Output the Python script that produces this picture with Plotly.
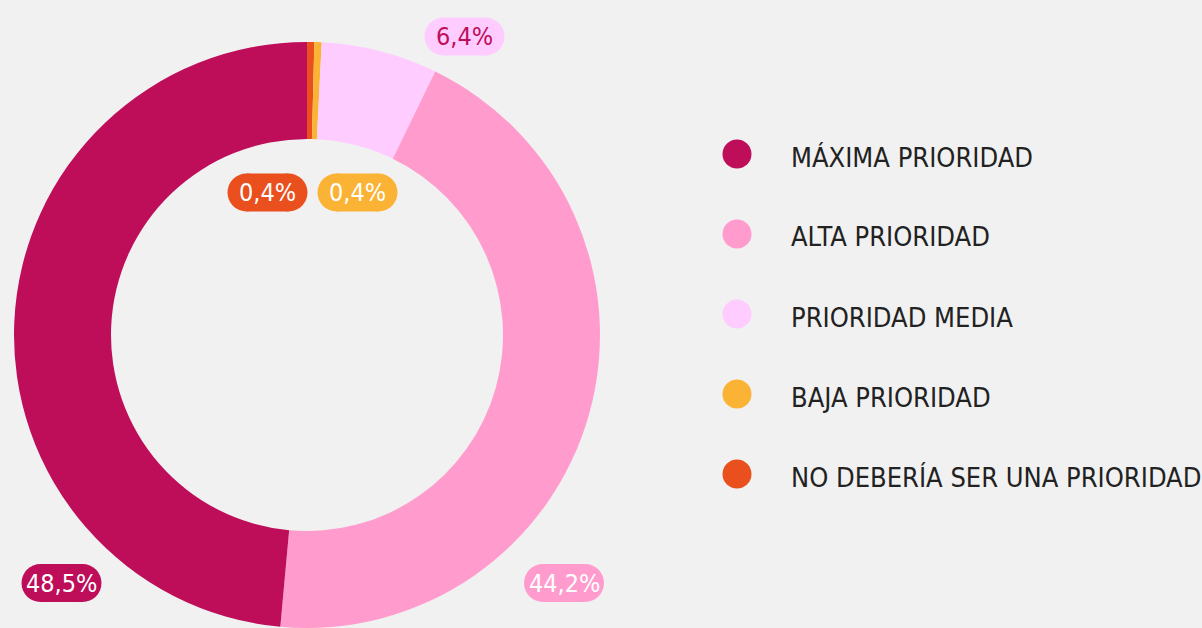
import plotly.graph_objects as go

# ---- data ----
categories = ["MÁXIMA PRIORIDAD", "ALTA PRIORIDAD", "PRIORIDAD MEDIA",
              "BAJA PRIORIDAD", "NO DEBERÍA SER UNA PRIORIDAD"]
values = [48.5, 44.2, 6.4, 0.4, 0.4]
value_labels = ["48,5%", "44,2%", "6,4%", "0,4%", "0,4%"]

# ---- styles ----
colors = ["#BE0E5A", "#FF9CCD", "#FFCCFF", "#FBB335", "#EA501E"]
label_text_colors = ["#FFFFFF", "#FFFFFF", "#BE0E5A", "#FFFFFF", "#FFFFFF"]
label_pos_px = [(61.5, 583), (564, 583), (464.5, 36.5), (357.5, 192.5), (267.5, 192.5)]
W, H = 1202, 628
FONT = "DejaVu Sans Condensed, DejaVu Sans, sans-serif"
BG = "#F1F1F1"
TEXT = "#222222"


def px(x):
    return x / W


def py(y):
    return 1 - y / H


cx, cy, r = 307, 335, 293
inner_r = 196

fig = go.Figure()
# slices drawn clockwise from 12 o'clock in reverse order, so the first
# category runs counter-clockwise from the top
fig.add_trace(go.Pie(
    labels=categories[::-1],
    values=values[::-1],
    sort=False,
    direction="clockwise",
    rotation=0,
    hole=inner_r / r,
    marker=dict(colors=colors[::-1], line=dict(width=0)),
    textinfo="none",
    hoverinfo="label+percent",
    showlegend=False,
    domain=dict(x=[px(cx - r), px(cx + r)], y=[py(cy + r), py(cy - r)]),
))

shapes = []
annotations = []

# value pills
pill_w, pill_h = 80, 38
rad = pill_h / 2
for (lx, ly), txt, bg, fg in zip(label_pos_px, value_labels, colors, label_text_colors):
    xa, ya = px(lx), py(ly)
    common = dict(xref="paper", yref="paper", xsizemode="pixel", ysizemode="pixel",
                  xanchor=xa, yanchor=ya, fillcolor=bg, line=dict(width=0), layer="above")
    shapes.append(dict(type="rect", x0=-pill_w / 2 + rad, x1=pill_w / 2 - rad,
                       y0=-pill_h / 2, y1=pill_h / 2, **common))
    shapes.append(dict(type="circle", x0=-pill_w / 2, x1=-pill_w / 2 + 2 * rad,
                       y0=-pill_h / 2, y1=pill_h / 2, **common))
    shapes.append(dict(type="circle", x0=pill_w / 2 - 2 * rad, x1=pill_w / 2,
                       y0=-pill_h / 2, y1=pill_h / 2, **common))
    annotations.append(dict(x=xa, y=ya, xref="paper", yref="paper", text=txt,
                            showarrow=False, xanchor="center", yanchor="middle",
                            font=dict(family=FONT, size=25, color=fg)))

# legend
leg_x_marker, leg_x_text, leg_y0, leg_dy, leg_d = 737, 789, 154, 80, 29
for i, (cat, col) in enumerate(zip(categories, colors)):
    y = leg_y0 + i * leg_dy
    shapes.append(dict(type="circle", xref="paper", yref="paper",
                       xsizemode="pixel", ysizemode="pixel",
                       xanchor=px(leg_x_marker), yanchor=py(y),
                       x0=-leg_d / 2, x1=leg_d / 2, y0=-leg_d / 2, y1=leg_d / 2,
                       fillcolor=col, line=dict(width=0)))
    annotations.append(dict(x=px(leg_x_text), y=py(y + 3), xref="paper", yref="paper",
                            text=cat, showarrow=False, xanchor="left", yanchor="middle",
                            font=dict(family=FONT, size=27, color=TEXT)))

fig.update_layout(
    width=W, height=H,
    margin=dict(l=0, r=0, t=0, b=0),
    paper_bgcolor=BG, plot_bgcolor=BG,
    shapes=shapes, annotations=annotations,
    showlegend=False,
)

fig.write_html("out.html",
               config={"displayModeBar": False},
               post_script="document.body.style.margin='0';document.body.style.overflow='hidden';")
